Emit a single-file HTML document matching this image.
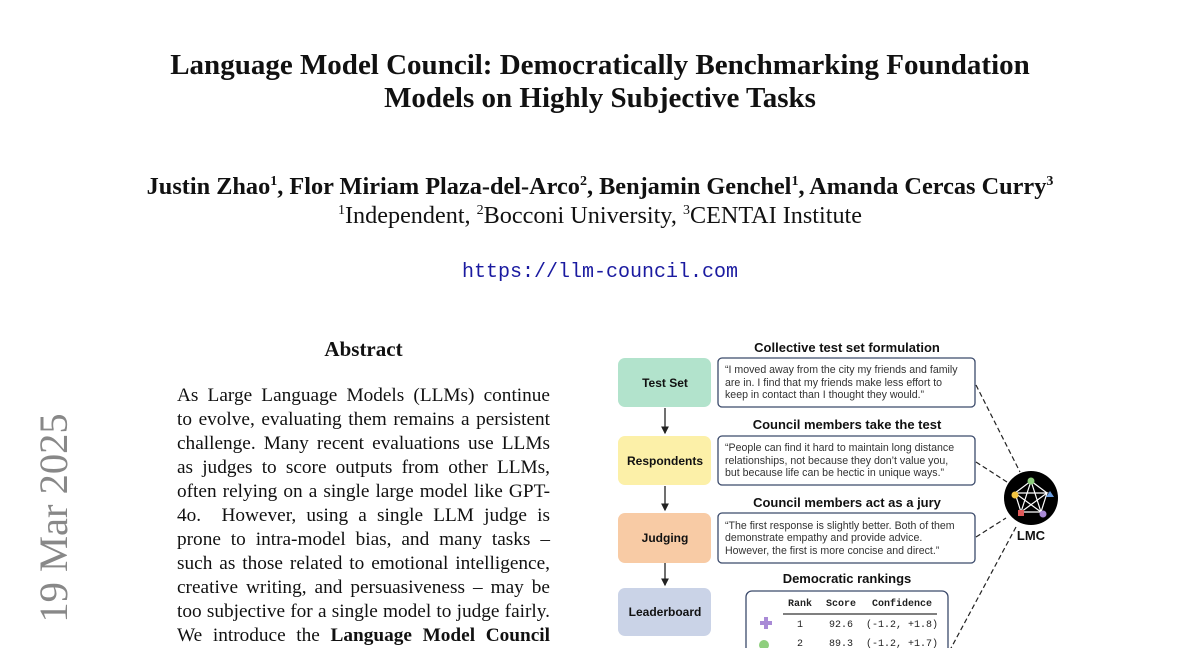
<!DOCTYPE html>
<html><head><meta charset="utf-8"><style>
body{margin:0;width:1200px;height:648px;overflow:hidden;background:#fff;position:relative;font-family:"Liberation Serif",serif;color:#111}
.a{position:absolute}
.t{font-weight:bold;font-size:29px;text-align:center;left:0;width:1200px;white-space:nowrap}
.ln{position:absolute;left:177px;width:373px;font-size:19.3px;text-align:justify;text-align-last:justify;white-space:nowrap;height:24px;line-height:24px}
sup{font-size:14px;vertical-align:9px;line-height:0}
</style></head><body>
<div class="a t" style="top:49px">Language Model Council: Democratically Benchmarking Foundation</div>
<div class="a t" style="top:82px">Models on Highly Subjective Tasks</div>
<div class="a" style="top:173px;left:0;width:1200px;text-align:center;font-size:24.3px;font-weight:bold;white-space:nowrap">Justin Zhao<sup>1</sup>, Flor Miriam Plaza-del-Arco<sup>2</sup>, Benjamin Genchel<sup>1</sup>, Amanda Cercas Curry<sup>3</sup></div>
<div class="a" style="top:202px;left:0;width:1200px;text-align:center;font-size:24.2px;white-space:nowrap"><sup>1</sup>Independent, <sup>2</sup>Bocconi University, <sup>3</sup>CENTAI Institute</div>
<div class="a" style="top:261px;left:0;width:1200px;text-align:center;font-size:20px;font-family:'Liberation Mono',monospace;color:#1a1aa0">https://llm-council.com</div>
<div class="a" style="left:-66px;top:518px;width:240px;text-align:center;font-size:40.5px;color:#888;transform:rotate(-90deg);transform-origin:center;line-height:40px;margin-top:-20px;white-space:nowrap">19 Mar 2025</div>
<div class="a" style="top:337px;left:177px;width:373px;text-align:center;font-size:21px;font-weight:bold">Abstract</div>
<div class="ln" style="top:384px">As Large Language Models (LLMs) continue</div>
<div class="ln" style="top:408px">to evolve, evaluating them remains a persistent</div>
<div class="ln" style="top:432px">challenge. Many recent evaluations use LLMs</div>
<div class="ln" style="top:456px">as judges to score outputs from other LLMs,</div>
<div class="ln" style="top:480px">often relying on a single large model like GPT-</div>
<div class="ln" style="top:504px">4o.&nbsp; However, using a single LLM judge is</div>
<div class="ln" style="top:528px">prone to intra-model bias, and many tasks –</div>
<div class="ln" style="top:552px">such as those related to emotional intelligence,</div>
<div class="ln" style="top:576px">creative writing, and persuasiveness – may be</div>
<div class="ln" style="top:600px">too subjective for a single model to judge fairly.</div>
<div class="ln" style="top:624px">We introduce the <b>Language Model Council</b></div>
<svg class="a" style="left:0;top:0" width="1200" height="648" font-family="Liberation Sans, sans-serif">
<defs><marker id="ar" markerWidth="6" markerHeight="6" refX="5" refY="3" orient="auto"><path d="M0,0L6,3L0,6z" fill="#222"/></marker></defs>
<g font-weight="bold" font-size="12" text-anchor="middle" fill="#111">
<rect x="618" y="358" width="93" height="49" rx="7" fill="#b2e3cc"/><text x="665" y="387">Test Set</text>
<rect x="618" y="436" width="93" height="49" rx="7" fill="#fcf0a8"/><text x="665" y="465">Respondents</text>
<rect x="618" y="513" width="93" height="50" rx="7" fill="#f8cba5"/><text x="665" y="542">Judging</text>
<rect x="618" y="588" width="93" height="48" rx="7" fill="#cad3e7"/><text x="665" y="616">Leaderboard</text>
<g font-size="13">
<text x="847" y="352">Collective test set formulation</text>
<text x="847" y="429">Council members take the test</text>
<text x="847" y="507">Council members act as a jury</text>
<text x="847" y="583">Democratic rankings</text>
<text x="1031" y="540">LMC</text>
</g>
</g>
<g stroke="#222" stroke-width="1.3" marker-end="url(#ar)">
<line x1="665" y1="408" x2="665" y2="433"/><line x1="665" y1="486" x2="665" y2="510"/><line x1="665" y1="563" x2="665" y2="585"/>
</g>
<g fill="#fff" stroke="#3b4a6b" stroke-width="1.3">
<rect x="718" y="358" width="257" height="49" rx="4"/>
<rect x="718" y="436" width="257" height="49" rx="4"/>
<rect x="718" y="513" width="257" height="50" rx="4"/>
<rect x="746" y="591" width="202" height="70" rx="6"/>
</g>
<g font-size="10.6" fill="#333">
<text x="725" y="373">“I moved away from the city my friends and family</text>
<text x="725" y="386">are in. I find that my friends make less effort to</text>
<text x="725" y="398">keep in contact than I thought they would.”</text>
<text x="725" y="451">“People can find it hard to maintain long distance</text>
<text x="725" y="464">relationships, not because they don’t value you,</text>
<text x="725" y="476">but because life can be hectic in unique ways.”</text>
<text x="725" y="529">“The first response is slightly better. Both of them</text>
<text x="725" y="541">demonstrate empathy and provide advice.</text>
<text x="725" y="554">However, the first is more concise and direct.”</text>
</g>
<g font-family="Liberation Mono, monospace" font-size="10" fill="#222">
<g font-weight="bold"><text x="788" y="606">Rank</text><text x="826" y="606">Score</text><text x="872" y="606">Confidence</text></g>
<text x="797" y="627">1</text><text x="829" y="627">92.6</text><text x="866" y="627">(-1.2, +1.8)</text>
<text x="797" y="646">2</text><text x="829" y="646">89.3</text><text x="866" y="646">(-1.2, +1.7)</text>
</g>
<line x1="783" y1="614" x2="937" y2="614" stroke="#333" stroke-width="1.3"/>
<path d="M760,621h4v-4h4v4h4v4h-4v4h-4v-4h-4z" fill="#a98ad6"/>
<circle cx="764" cy="645" r="5" fill="#8fcf7e"/>
<g stroke="#222" stroke-width="1.2" stroke-dasharray="5,3" fill="none">
<line x1="976" y1="385" x2="1020" y2="472"/>
<line x1="976" y1="462" x2="1007" y2="482"/>
<line x1="976" y1="537" x2="1006" y2="518"/>
<line x1="1016" y1="527" x2="950" y2="650"/>
</g>
<circle cx="1031" cy="498" r="27" fill="#000"/>
<g stroke="#fff" stroke-width="1.2" fill="none">
<polygon points="1031,481 1047,493 1041,512 1021,512 1015,493"/>
<polyline points="1031,481 1041,512 1015,493 1047,493 1021,512 1031,481"/>
</g>
<circle cx="1031" cy="481" r="3.5" fill="#8fcf7e"/>
<path d="M1046,497l4,-6l4,6z" fill="#6b9ee0"/>
<circle cx="1015" cy="495" r="3.5" fill="#f4c542"/>
<rect x="1018" y="510" width="6" height="6" fill="#e05a5a"/>
<circle cx="1043" cy="514" r="3.5" fill="#a98ad6"/>
</svg>
</body></html>
